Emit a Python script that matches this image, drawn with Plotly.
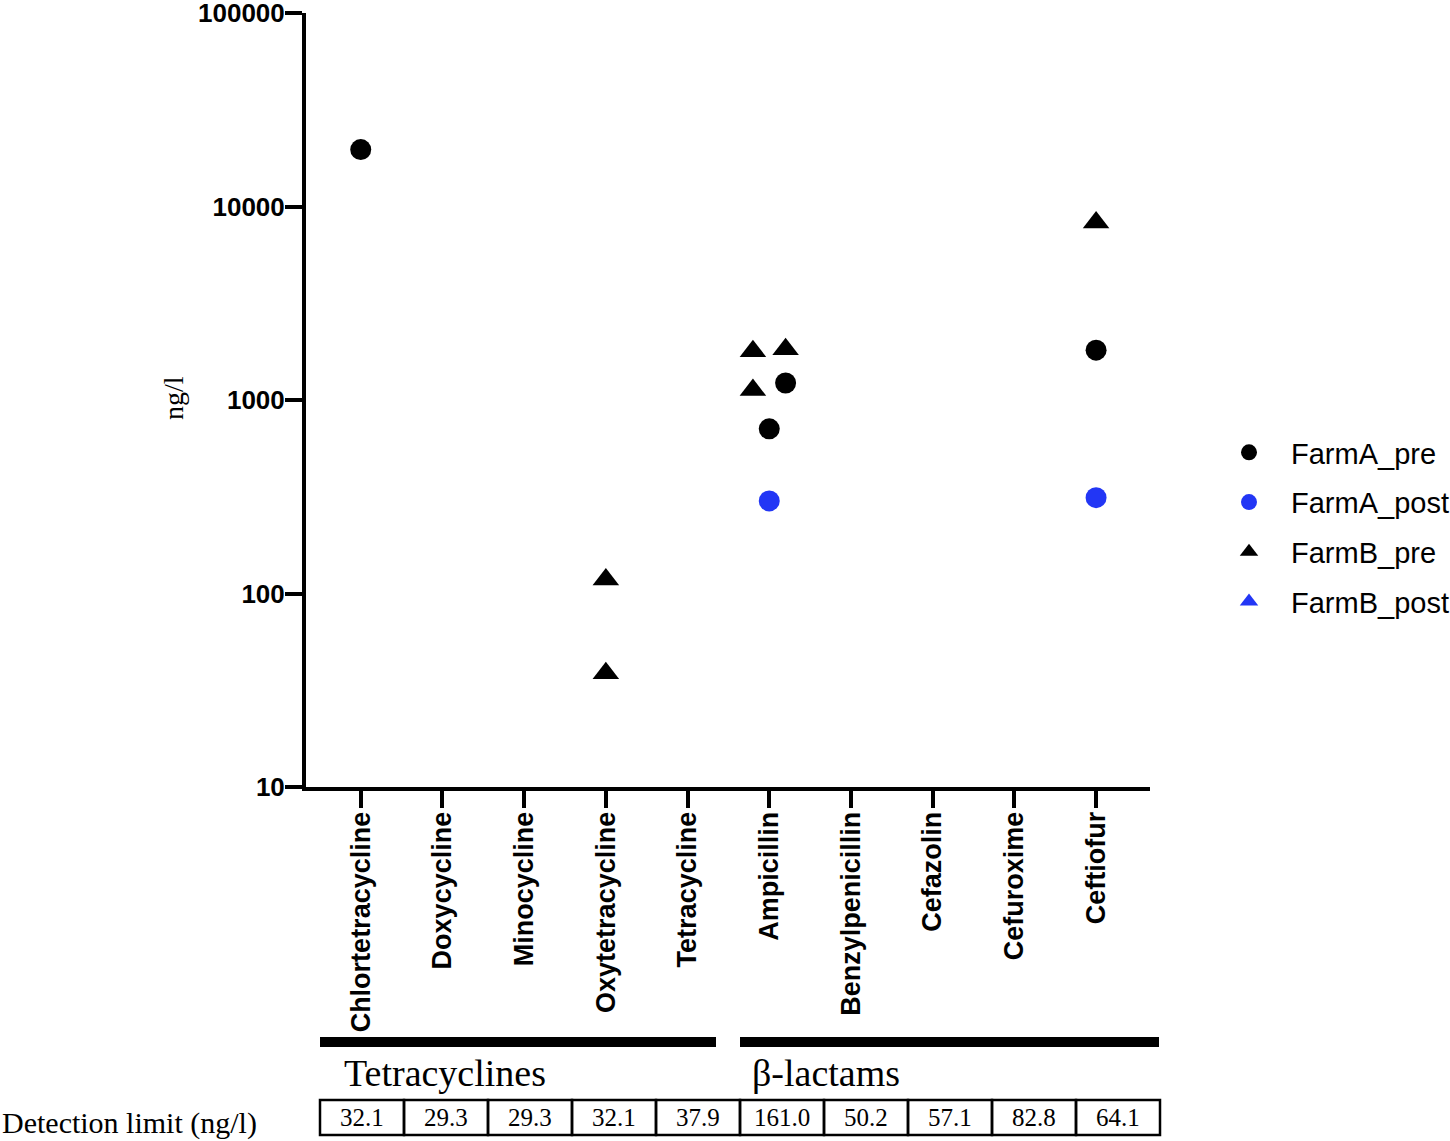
import plotly.graph_objects as go

# categories on the x axis
drugs = ['Chlortetracycline', 'Doxycycline', 'Minocycline', 'Oxytetracycline', 'Tetracycline',
         'Ampicillin', 'Benzylpenicillin', 'Cefazolin', 'Cefuroxime', 'Ceftiofur']
detection_limit = ['32.1', '29.3', '29.3', '32.1', '37.9', '161.0', '50.2', '57.1', '82.8', '64.1']
groups = ['Tetracyclines', 'β-lactams']

# measured concentrations (ng/l); drug index + small horizontal jitter
farmA_pre_drug = [0, 5, 5, 9]
farmA_pre_jit = [0.0, 0.2, 0.0, 0.0]
farmA_pre_val = [19700, 1225, 710, 1810]

farmA_post_drug = [5, 9]
farmA_post_jit = [0.0, 0.0]
farmA_post_val = [301, 313]

farmB_pre_drug = [3, 3, 5, 5, 5, 9]
farmB_pre_jit = [0.0, 0.0, -0.2, 0.2, -0.2, 0.0]
farmB_pre_val = [118, 38.7, 1790, 1830, 1127, 8280]

farmB_post_drug = []
farmB_post_jit = []
farmB_post_val = []

y_ticks = [10, 100, 1000, 10000, 100000]

# page geometry (pixels)
W, H = 1450, 1141
L, R, T, B = 306, 1150, 13, 787


def px_x(px):
    return (px - L) / (R - L)


def px_y(py):
    return (B - py) / (B - T)


BLACK = '#000000'
BLUE = '#2236f5'
SANS = 'Liberation Sans, Arial, sans-serif'
SERIF = 'Liberation Serif, Times New Roman, serif'

fig = go.Figure()


def add_series(name, idx, jit, vals, symbol, color):
    xs = [i + j for i, j in zip(idx, jit)] if idx else [None]
    ys = vals if vals else [None]
    size = 21 if symbol == 'circle' else 23
    fig.add_trace(go.Scatter(x=xs, y=ys, mode='markers', name=name, legendgroup=name,
                             marker=dict(symbol=symbol, color=color, size=size)))


add_series('FarmA_pre', farmA_pre_drug, farmA_pre_jit, farmA_pre_val, 'circle', BLACK)
add_series('FarmA_post', farmA_post_drug, farmA_post_jit, farmA_post_val, 'circle', BLUE)
add_series('FarmB_pre', farmB_pre_drug, farmB_pre_jit, farmB_pre_val, 'triangle-up', BLACK)
add_series('FarmB_post', farmB_post_drug, farmB_post_jit, farmB_post_val, 'triangle-up', BLUE)

shapes = []
annotations = []

# group bars and names
bar_px = [(320, 716), (740, 1159)]
label_px = [342, 750]
for (x0, x1), lx, g in zip(bar_px, label_px, groups):
    shapes.append(dict(type='rect', xref='paper', yref='paper',
                       x0=px_x(x0), x1=px_x(x1), y0=px_y(1047), y1=px_y(1037),
                       fillcolor=BLACK, line=dict(width=0)))
    annotations.append(dict(text=g, xref='paper', yref='paper', x=px_x(lx), y=px_y(1073),
                            xanchor='left', yanchor='middle', showarrow=False,
                            font=dict(family=SERIF, size=38, color=BLACK)))

# detection limit table
cell_w = 84
tab_x0 = 320
for i, v in enumerate(detection_limit):
    cx0 = tab_x0 + i * cell_w
    shapes.append(dict(type='rect', xref='paper', yref='paper',
                       x0=px_x(cx0), x1=px_x(cx0 + cell_w), y0=px_y(1135), y1=px_y(1100),
                       line=dict(color=BLACK, width=2.5)))
    annotations.append(dict(text=v, xref='paper', yref='paper', x=px_x(cx0 + cell_w / 2), y=px_y(1117),
                            xanchor='center', yanchor='middle', showarrow=False,
                            font=dict(family=SERIF, size=25, color=BLACK)))

annotations.append(dict(text='Detection limit (ng/l)', xref='paper', yref='paper', x=px_x(0), y=px_y(1123),
                        xanchor='left', yanchor='middle', showarrow=False,
                        font=dict(family=SERIF, size=30, color=BLACK)))

annotations.append(dict(text='ng/l', xref='paper', yref='paper', x=px_x(173), y=px_y(398),
                        xanchor='center', yanchor='middle', showarrow=False, textangle=-90,
                        font=dict(family=SERIF, size=28, color=BLACK)))

fig.update_layout(
    width=W, height=H,
    margin=dict(l=L, r=W - R, t=T, b=H - B, pad=0, autoexpand=False),
    paper_bgcolor='white', plot_bgcolor='white',
    shapes=shapes, annotations=annotations,
    showlegend=True,
    legend=dict(xref='container', yref='container', x=1207 / W, y=1 - 427 / H,
                xanchor='left', yanchor='top',
                font=dict(family=SANS, size=29, color=BLACK), itemwidth=74,
                tracegroupgap=9, itemsizing='trace', bgcolor='rgba(0,0,0,0)'),
)

fig.update_xaxes(
    range=[-0.67, 9.66], tickmode='array', tickvals=list(range(len(drugs))), ticktext=drugs,
    tickangle=-90, ticks='outside', ticklen=17, tickwidth=4, tickcolor=BLACK, ticklabelstandoff=-7,
    showline=True, linewidth=4, linecolor=BLACK, showgrid=False, zeroline=False,
    tickfont=dict(family=SANS, size=27, color=BLACK, weight='bold'),
)
fig.update_yaxes(
    type='log', range=[1, 5.0005], tickmode='array', tickvals=y_ticks, ticktext=[str(v) for v in y_ticks],
    ticks='outside', ticklen=17, tickwidth=4, tickcolor=BLACK, ticklabelstandoff=-5,
    ticklabeloverflow='allow',
    showline=True, linewidth=4, linecolor=BLACK, showgrid=False, zeroline=False,
    tickfont=dict(family=SANS, size=26, color=BLACK, weight='bold'),
)

fig.write_html('out.html', config={'displayModeBar': False},
               post_script="document.body.style.margin='0';")
